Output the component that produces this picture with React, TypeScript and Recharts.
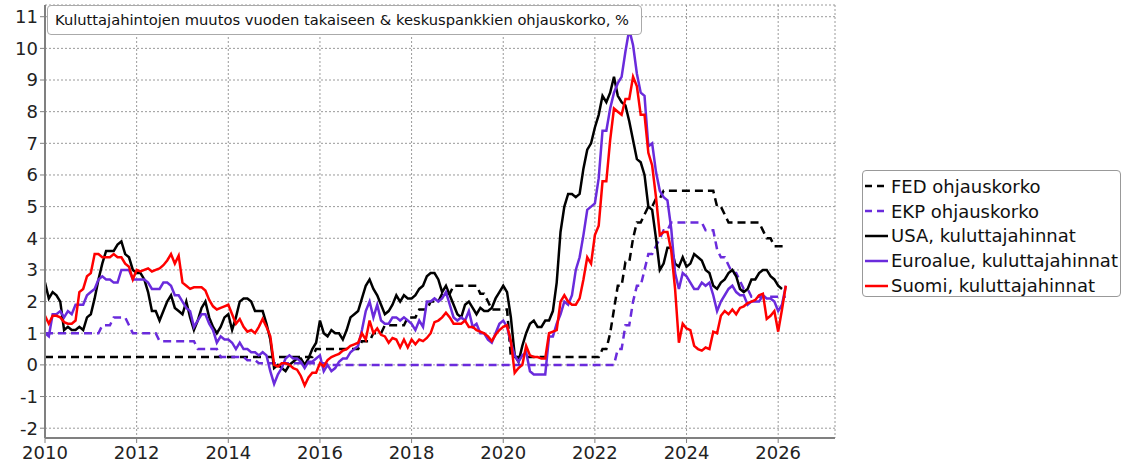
import React from "react";
import { LineChart, Line, XAxis, YAxis, CartesianGrid } from "recharts";

// monthly series, first value = Jan 2010
const usaCpi = [
  2.6, 2.1, 2.3, 2.2, 2.0, 1.1, 1.2, 1.1, 1.1, 1.2, 1.1, 1.5,
  1.6, 2.1, 2.7, 3.2, 3.6, 3.6, 3.6, 3.8, 3.9, 3.5, 3.4, 3.0,
  2.9, 2.9, 2.7, 2.3, 1.7, 1.7, 1.4, 1.7, 2.0, 2.2, 1.8, 1.7,
  1.6, 2.0, 1.5, 1.1, 1.4, 1.8, 2.0, 1.5, 1.2, 1.0, 1.2, 1.5,
  1.6, 1.1, 1.5, 2.0, 2.1, 2.1, 2.0, 1.7, 1.7, 1.7, 1.3, 0.8,
  -0.1, 0.0, -0.1, -0.2, 0.0, 0.1, 0.2, 0.2, 0.0, 0.2, 0.5, 0.7,
  1.4, 1.0, 0.9, 1.1, 1.0, 1.0, 0.8, 1.1, 1.5, 1.6, 1.7, 2.1,
  2.5, 2.7, 2.4, 2.2, 1.9, 1.6, 1.7, 1.9, 2.2, 2.0, 2.2, 2.1,
  2.1, 2.2, 2.4, 2.5, 2.8, 2.9, 2.9, 2.7, 2.3, 2.5, 2.2, 1.9,
  1.6, 1.5, 1.9, 2.0, 1.8, 1.6, 1.8, 1.7, 1.7, 1.8, 2.1, 2.3,
  2.5, 2.3, 1.5, 0.3, 0.1, 0.6, 1.0, 1.3, 1.4, 1.2, 1.2, 1.4,
  1.4, 1.7, 2.6, 4.2, 5.0, 5.4, 5.4, 5.3, 5.4, 6.2, 6.8, 7.0,
  7.5, 7.9, 8.5, 8.3, 8.6, 9.1, 8.5, 8.3, 8.2, 7.7, 7.1, 6.5,
  6.4, 6.0, 5.0, 4.9, 4.0, 3.0, 3.2, 3.7, 3.7, 3.2, 3.1, 3.4,
  3.1, 3.2, 3.5, 3.4, 3.3, 3.0, 2.9, 2.5, 2.4, 2.6, 2.7, 2.9,
  3.0, 2.8, 2.4, 2.3, 2.4, 2.7, 2.7, 2.9, 3.0, 3.0, 2.8, 2.7,
  2.5, 2.4,
];

const euroCpi = [
  1.0, 0.9, 1.6, 1.6, 1.7, 1.5, 1.7, 1.6, 1.9, 1.9, 1.9, 2.2,
  2.3, 2.4, 2.7, 2.8, 2.7, 2.7, 2.6, 2.6, 3.0, 3.0, 3.0, 2.7,
  2.7, 2.7, 2.7, 2.6, 2.4, 2.4, 2.4, 2.6, 2.6, 2.5, 2.2, 2.2,
  2.0, 1.8, 1.7, 1.2, 1.4, 1.6, 1.6, 1.3, 1.1, 0.7, 0.9, 0.8,
  0.8, 0.7, 0.5, 0.7, 0.5, 0.5, 0.4, 0.4, 0.3, 0.4, 0.3, -0.2,
  -0.6, -0.3, -0.1, 0.2, 0.3, 0.2, 0.2, 0.1, -0.1, 0.1, 0.1, 0.2,
  0.3, -0.2, 0.0, -0.2, -0.1, 0.1, 0.2, 0.2, 0.4, 0.5, 0.6, 1.1,
  1.7, 2.0, 1.5, 1.9, 1.4, 1.3, 1.3, 1.5, 1.5, 1.4, 1.5, 1.4,
  1.3, 1.1, 1.4, 1.2, 2.0, 2.0, 2.1, 2.0, 2.1, 2.3, 1.9, 1.5,
  1.4, 1.5, 1.4, 1.7, 1.2, 1.3, 1.0, 1.0, 0.8, 0.7, 1.0, 1.3,
  1.4, 1.2, 0.7, 0.3, 0.1, 0.3, 0.4, -0.2, -0.3, -0.3, -0.3, -0.3,
  0.9, 0.9, 1.3, 1.6, 2.0, 1.9, 2.2, 3.0, 3.4, 4.1, 4.9, 5.0,
  5.1, 5.9, 7.4, 7.4, 8.1, 8.6, 8.9, 9.1, 9.9, 10.6, 10.1, 9.2,
  8.6, 8.5, 6.9, 7.0, 6.1, 5.5, 5.3, 5.2, 4.3, 2.9, 2.4, 2.9,
  2.8, 2.6, 2.4, 2.4, 2.6, 2.5, 2.6, 2.2, 1.7, 2.0, 2.2, 2.4,
  2.5, 2.3, 2.2, 2.2, 1.9, 2.0, 2.0, 2.0, 2.2, 2.1, 2.1, 2.0,
  1.7, 1.9, 2.5,
];

const finCpi = [
  1.55, 1.3, 1.55, 1.55, 1.5, 1.35, 1.3, 1.3, 1.4, 2.3, 2.4, 2.8,
  2.9, 3.5, 3.5, 3.4, 3.4, 3.4, 3.5, 3.4, 3.4, 3.2, 3.1, 2.7,
  3.0, 2.95, 3.0, 3.05, 2.95, 3.0, 3.05, 3.15, 3.3, 3.5, 3.2, 3.45,
  2.6, 2.5, 2.4, 2.45, 2.45, 2.45, 2.35, 2.05, 1.85, 1.75, 1.8, 1.85,
  1.9, 1.6, 1.3, 1.45, 1.2, 1.05, 1.1, 1.0, 1.2, 1.45, 1.2, 0.9,
  0.0, -0.05, 0.05, 0.05, 0.0, -0.1, -0.15, -0.35, -0.65, -0.4, -0.25, -0.25,
  0.05, -0.05, 0.15, 0.25, 0.3, 0.35, 0.45, 0.5, 0.6, 0.65, 0.7, 1.0,
  0.8, 1.4, 1.0, 1.15, 0.95, 0.9, 0.7, 0.85, 0.8, 0.55, 0.8, 0.55,
  0.8, 0.65, 0.8, 0.75, 0.85, 1.0, 1.35, 1.4, 1.5, 1.65, 1.5, 1.3,
  1.3, 1.3, 1.4, 1.2, 1.2, 1.1, 1.05, 1.0, 0.9, 0.75, 0.95, 1.1,
  1.2, 1.25, 0.75, -0.25, -0.1, 0.0, 0.6, 0.3, 0.25, 0.25, 0.2, 0.2,
  1.0, 1.05, 1.1, 2.0, 2.2, 2.0, 1.9, 1.9, 2.1, 2.7, 3.4, 3.2,
  4.1, 4.4, 5.8, 5.8, 7.1, 8.1, 8.0, 7.9, 8.4, 8.4, 9.1, 8.8,
  7.9, 7.9, 6.7, 6.3, 5.3, 4.1, 4.2, 4.2, 3.6, 2.4, 0.7, 1.3,
  1.15, 1.1, 0.6, 0.5, 0.45, 0.55, 0.5, 1.05, 1.0, 1.55, 1.7, 1.6,
  1.75, 1.6, 1.8, 1.85, 1.95, 2.0, 2.05, 2.2, 2.25, 1.45, 1.55, 1.7,
  1.05, 1.75, 2.5,
];

// policy rates: month, rate (each change drawn as a one-month ramp)
const fedRate: [string, number][] = [
  ["2010-01", 0.25], ["2015-11", 0.25], ["2015-12", 0.5], ["2016-11", 0.5],
  ["2016-12", 0.75], ["2017-02", 0.75], ["2017-03", 1.0], ["2017-05", 1.0],
  ["2017-06", 1.25], ["2017-11", 1.25], ["2017-12", 1.5], ["2018-02", 1.5],
  ["2018-03", 1.75], ["2018-05", 1.75], ["2018-06", 2.0], ["2018-08", 2.0],
  ["2018-09", 2.25], ["2018-11", 2.25], ["2018-12", 2.5], ["2019-06", 2.5],
  ["2019-07", 2.25], ["2019-08", 2.25], ["2019-09", 2.0], ["2019-10", 1.75],
  ["2020-02", 1.75], ["2020-03", 0.25], ["2022-02", 0.25], ["2022-03", 0.5],
  ["2022-04", 0.5], ["2022-05", 1.0], ["2022-06", 1.75], ["2022-07", 2.5],
  ["2022-08", 2.5], ["2022-09", 3.25], ["2022-10", 3.25], ["2022-11", 4.0],
  ["2022-12", 4.5], ["2023-01", 4.5], ["2023-02", 4.75], ["2023-03", 5.0],
  ["2023-04", 5.0], ["2023-05", 5.25], ["2023-06", 5.25], ["2023-07", 5.5],
  ["2024-08", 5.5], ["2024-09", 5.0], ["2024-10", 5.0], ["2024-11", 4.75],
  ["2024-12", 4.5], ["2025-08", 4.5], ["2025-09", 4.25], ["2025-10", 4.0],
  ["2025-11", 4.0], ["2025-12", 3.75], ["2026-03", 3.75],
];

const ecbRate: [string, number][] = [
  ["2010-01", 1.0], ["2011-03", 1.0], ["2011-04", 1.25], ["2011-06", 1.25],
  ["2011-07", 1.5], ["2011-10", 1.5], ["2011-11", 1.25], ["2011-12", 1.0],
  ["2012-06", 1.0], ["2012-07", 0.75], ["2013-04", 0.75], ["2013-05", 0.5],
  ["2013-10", 0.5], ["2013-11", 0.25], ["2014-05", 0.25], ["2014-06", 0.15],
  ["2014-08", 0.15], ["2014-09", 0.05], ["2016-02", 0.05], ["2016-03", 0],
  ["2022-06", 0], ["2022-07", 0.5], ["2022-08", 0.5], ["2022-09", 1.25],
  ["2022-10", 1.25], ["2022-11", 2.0], ["2022-12", 2.5], ["2023-01", 2.5],
  ["2023-02", 3.0], ["2023-03", 3.5], ["2023-04", 3.5], ["2023-05", 3.75],
  ["2023-06", 4.0], ["2023-07", 4.25], ["2023-08", 4.25], ["2023-09", 4.5],
  ["2024-05", 4.5], ["2024-06", 4.25], ["2024-08", 4.25], ["2024-09", 3.65],
  ["2024-10", 3.4], ["2024-11", 3.4], ["2024-12", 3.15], ["2025-01", 2.9],
  ["2025-02", 2.9], ["2025-03", 2.65], ["2025-04", 2.4], ["2025-05", 2.4],
  ["2025-06", 2.15], ["2026-03", 2.15],
];

const xTicks = [2010, 2012, 2014, 2016, 2018, 2020, 2022, 2024, 2026];
const yTicks = [-2, -1, 0, 1, 2, 3, 4, 5, 6, 7, 8, 9, 10, 11];

const title =
  "Kuluttajahintojen muutos vuoden takaiseen & keskuspankkien ohjauskorko, %";

const PURPLE = "#6a2bdc";
const FONT = "'DejaVu Sans', Verdana, sans-serif";

const monthly = (vals: number[]) =>
  vals.map((v, i) => ({ x: 2010 + i / 12, v }));

const steps = (pts: [string, number][]) =>
  pts.map(([d, v]) => {
    const [y, m] = d.split("-").map(Number);
    return { x: y + (m - 1) / 12, v };
  });

const series = [
  { name: "FED ohjauskorko", data: steps(fedRate), color: "#000", dash: "8 5" },
  { name: "EKP ohjauskorko", data: steps(ecbRate), color: PURPLE, dash: "8 5" },
  { name: "USA, kuluttajahinnat", data: monthly(usaCpi), color: "#000" },
  { name: "Euroalue, kuluttajahinnat", data: monthly(euroCpi), color: PURPLE },
  { name: "Suomi, kuluttajahinnat", data: monthly(finCpi), color: "#ff0000" },
];

function LegendBox() {
  return (
    <div
      style={{
        position: "absolute",
        left: 862,
        top: 170,
        width: 259,
        height: 127,
        boxSizing: "border-box",
        border: "1px solid #999",
        borderRadius: 4,
        background: "#fff",
        padding: "3px 0 0 2px",
        fontFamily: FONT,
        fontSize: 18,
        color: "#111",
      }}
    >
      {series.map((s) => (
        <div
          key={s.name}
          style={{ display: "flex", alignItems: "center", height: 24.8 }}
        >
          <svg width={23} height={6} style={{ marginRight: 3 }}>
            <line
              x1={0}
              y1={3}
              x2={23}
              y2={3}
              stroke={s.color}
              strokeWidth={2.5}
              strokeDasharray={s.dash ? "7 5" : undefined}
            />
          </svg>
          <span style={{ whiteSpace: "nowrap" }}>{s.name}</span>
        </div>
      ))}
    </div>
  );
}

export default function App() {
  const tick = { fontSize: 18, fill: "#222", fontFamily: FONT };
  return (
    <div
      style={{
        position: "absolute",
        left: 0,
        top: 0,
        width: 1126,
        height: 464,
        background: "#fff",
      }}
    >
      <LineChart
        width={1126}
        height={464}
        margin={{ top: 5, right: 291, bottom: 0, left: 0 }}
      >
        <CartesianGrid stroke="#9a9a9a" strokeDasharray="2 2" />
        <XAxis
          dataKey="x"
          type="number"
          domain={[2010, 2027.24]}
          ticks={xTicks}
          allowDataOverflow
          height={26}
          tick={tick}
          tickSize={5}
          tickMargin={3}
          axisLine={{ stroke: "#808080", strokeWidth: 2 }}
          tickLine={{ stroke: "#808080" }}
        />
        <YAxis
          type="number"
          domain={[-2.31, 11.37]}
          ticks={yTicks}
          allowDataOverflow
          width={45}
          tick={tick}
          tickSize={5}
          tickMargin={2}
          axisLine={{ stroke: "#808080", strokeWidth: 2 }}
          tickLine={{ stroke: "#808080" }}
        />
        {series.map((s) => (
          <Line
            key={s.name}
            data={s.data}
            dataKey="v"
            name={s.name}
            type="linear"
            stroke={s.color}
            strokeWidth={2.5}
            strokeDasharray={s.dash}
            dot={false}
            activeDot={false}
            isAnimationActive={false}
          />
        ))}
      </LineChart>
      <div
        style={{
          position: "absolute",
          left: 47,
          top: 5,
          width: 595,
          height: 30,
          boxSizing: "border-box",
          border: "1px solid #aaa",
          borderRadius: 4,
          background: "#fff",
          paddingLeft: 7,
          fontFamily: FONT,
          fontSize: 14.7,
          lineHeight: "28px",
          color: "#111",
          whiteSpace: "nowrap",
        }}
      >
        {title}
      </div>
      <LegendBox />
    </div>
  );
}
